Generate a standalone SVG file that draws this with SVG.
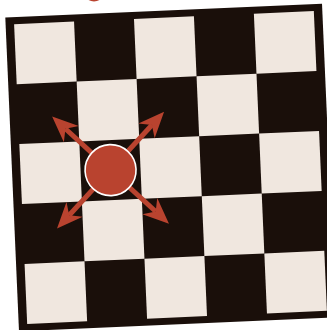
<svg xmlns="http://www.w3.org/2000/svg" width="327" height="330" viewBox="0 0 327 330">
  <style>
    .dark { fill: #1a0f0a; }
    .light { fill: #f0e7df; }
    .arrow { stroke: #b9432f; stroke-width: 5; fill: none; marker-end: url(#head); }
    .piece { fill: #b9432f; stroke: #ffffff; stroke-width: 1.6; }
  </style>
  <defs>
    <marker id="head" markerUnits="userSpaceOnUse" markerWidth="40" markerHeight="40" refX="0" refY="0" orient="auto" overflow="visible">
      <path d="M18,0 L-8,-11 L0,0 L-8,11 Z" fill="#b9432f"/>
    </marker>
  </defs>
  <rect width="327" height="330" fill="#ffffff"/>
  <circle id="top-mark" cx="94" cy="-9" r="10.5" fill="#b9432f"/>
  <g id="board" transform="translate(170.5,167.5) rotate(-2.5)">
    <rect class="dark" x="-158.5" y="-157" width="317" height="314"/>
    <g id="cells">
      <rect class="light" x="-150" y="-150" width="60" height="60"/>
      <rect class="light" x="-30" y="-150" width="60" height="60"/>
      <rect class="light" x="90" y="-150" width="60" height="60"/>
      <rect class="light" x="-90" y="-90" width="60" height="60"/>
      <rect class="light" x="30" y="-90" width="60" height="60"/>
      <rect class="light" x="-150" y="-30" width="60" height="60"/>
      <rect class="light" x="-30" y="-30" width="60" height="60"/>
      <rect class="light" x="90" y="-30" width="60" height="60"/>
      <rect class="light" x="-90" y="30" width="60" height="60"/>
      <rect class="light" x="30" y="30" width="60" height="60"/>
      <rect class="light" x="-150" y="90" width="60" height="60"/>
      <rect class="light" x="-30" y="90" width="60" height="60"/>
      <rect class="light" x="90" y="90" width="60" height="60"/>
    </g>
    <g id="connectors">
      <line class="arrow" x1="-60" y1="0" x2="-103.3" y2="-43.3"/>
      <line class="arrow" x1="-60" y1="0" x2="-16.7" y2="-43.3"/>
      <line class="arrow" x1="-60" y1="0" x2="-103.3" y2="43.3"/>
      <line class="arrow" x1="-60" y1="0" x2="-16.7" y2="43.3"/>
    </g>
    <g id="piece">
      <circle class="piece" cx="-60" cy="0" r="25.5"/>
    </g>
  </g>
</svg>
